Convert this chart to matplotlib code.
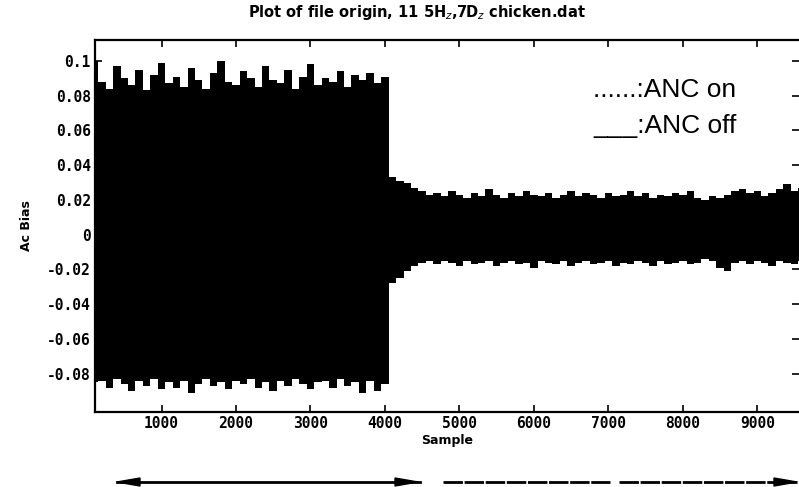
import matplotlib
matplotlib.use('Agg')
import matplotlib.pyplot as plt
import numpy as np

sample = np.arange(100, 9700, 100)

upper_off = [0.100, 0.088, 0.084, 0.097, 0.090, 0.086, 0.095, 0.083, 0.092, 0.099,
             0.087, 0.091, 0.085, 0.096, 0.089, 0.084, 0.093, 0.100, 0.088, 0.086,
             0.094, 0.090, 0.085, 0.097, 0.089, 0.087, 0.095, 0.084, 0.091, 0.098,
             0.086, 0.090, 0.088, 0.094, 0.085, 0.092, 0.089, 0.093, 0.087, 0.091]
lower_off = [-0.085, -0.084, -0.088, -0.083, -0.086, -0.090, -0.084, -0.087, -0.083, -0.089,
             -0.085, -0.088, -0.084, -0.091, -0.086, -0.083, -0.087, -0.085, -0.089, -0.084,
             -0.086, -0.083, -0.088, -0.085, -0.090, -0.084, -0.087, -0.083, -0.086, -0.089,
             -0.085, -0.084, -0.088, -0.083, -0.087, -0.085, -0.091, -0.084, -0.090, -0.086]
upper_on = [0.033, 0.031, 0.030, 0.027, 0.025, 0.023, 0.024, 0.022, 0.025, 0.023,
            0.021, 0.024, 0.022, 0.026, 0.023, 0.021, 0.024, 0.022, 0.025, 0.023,
            0.022, 0.024, 0.021, 0.023, 0.025, 0.022, 0.024, 0.023, 0.021, 0.024,
            0.022, 0.023, 0.025, 0.022, 0.024, 0.021, 0.023, 0.022, 0.024, 0.023,
            0.025, 0.021, 0.020, 0.022, 0.021, 0.023, 0.025, 0.026, 0.024, 0.025,
            0.022, 0.024, 0.026, 0.029, 0.025, 0.027]
lower_on = [-0.028, -0.025, -0.021, -0.018, -0.016, -0.015, -0.017, -0.015, -0.016, -0.018,
            -0.015, -0.017, -0.016, -0.015, -0.018, -0.016, -0.015, -0.017, -0.016, -0.019,
            -0.015, -0.016, -0.017, -0.015, -0.018, -0.016, -0.015, -0.017, -0.016, -0.015,
            -0.018, -0.016, -0.017, -0.015, -0.016, -0.018, -0.015, -0.017, -0.016, -0.015,
            -0.017, -0.016, -0.014, -0.015, -0.019, -0.021, -0.016, -0.015, -0.017, -0.015,
            -0.016, -0.018, -0.015, -0.016, -0.017, -0.015]

upper = np.array(upper_off + upper_on)
lower = np.array(lower_off + lower_on)

xticks = [1000, 2000, 3000, 4000, 5000, 6000, 7000, 8000, 9000]
yticks = [-0.08, -0.06, -0.04, -0.02, 0, 0.02, 0.04, 0.06, 0.08, 0.1]
ylabels = ['-0.08', '-0.06', '-0.04', '-0.02', '0', '0.02', '0.04', '0.06', '0.08', '0.1']

fig = plt.figure(figsize=(7.99, 4.87), dpi=100)
ax = fig.add_axes([95/799, 1-412/487, 1-95/799, (412-40)/487])

ax.fill_between(sample, lower, upper, step='mid', color='black', lw=0)
ax.set_xlim(107, 9560)
ax.set_ylim(-0.102, 0.112)

tfont = dict(family='DejaVu Sans Mono', weight='bold', size=10.5)
ax.set_xticks(xticks)
ax.set_xticklabels([str(t) for t in xticks], **tfont)
ax.set_yticks(yticks)
ax.set_yticklabels(ylabels, **tfont)
ax.tick_params(direction='in', length=5, width=1.2, top=True, right=True, pad=3)
for s in ax.spines.values():
    s.set_linewidth(1.6)
ax.spines['right'].set_visible(False)  # cut off in the scan

ax.set_xlabel('Sample', fontsize=9, fontweight='bold', labelpad=2)
ax.set_ylabel('Ac Bias', fontsize=9, fontweight='bold', labelpad=10)
fig.text(417/799, 1-12/487, 'Plot of file origin, 11 5H$_z$,7D$_z$ chicken.dat',
         ha='center', va='center', fontsize=10.5, fontweight='bold')

fig.text(593/799, 1-97/487, '......:ANC on', fontsize=19, family='Liberation Sans',
         ha='left', va='baseline')
fig.text(593/799, 1-133/487, '___:ANC off', fontsize=19, family='Liberation Sans',
         ha='left', va='baseline')

# region arrows under the plot
y_arr = 1 - 482/487
fig.add_artist(plt.Line2D([117/799, 420/799], [y_arr]*2, color='black', lw=2))
fig.patches.append(plt.Polygon([[117/799, y_arr], [140/799, y_arr+4/487], [140/799, y_arr-4/487]],
                               closed=True, color='black', transform=fig.transFigure))
fig.patches.append(plt.Polygon([[418/799, y_arr], [395/799, y_arr+4/487], [395/799, y_arr-4/487]],
                               closed=True, color='black', transform=fig.transFigure))
fig.add_artist(plt.Line2D([443/799, 610/799], [y_arr]*2, color='black', lw=2,
                          linestyle=(0, (7, 0.6))))
fig.add_artist(plt.Line2D([619/799, 797/799], [y_arr]*2, color='black', lw=2,
                          linestyle=(0, (7, 0.6))))
fig.patches.append(plt.Polygon([[797/799, y_arr], [774/799, y_arr+4/487], [774/799, y_arr-4/487]],
                               closed=True, color='black', transform=fig.transFigure))

fig.savefig('out.png', dpi=100)
